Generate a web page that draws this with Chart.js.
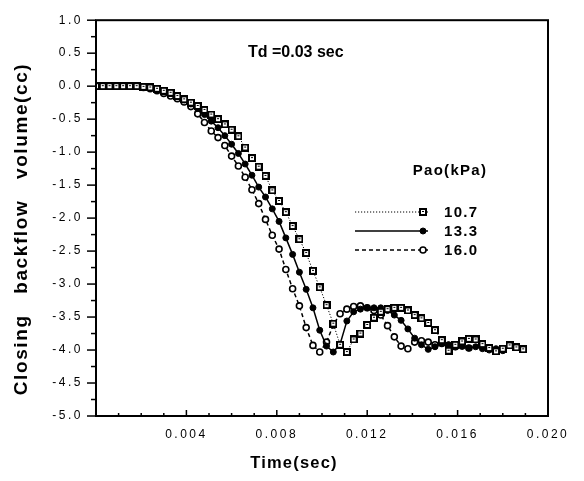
<!DOCTYPE html>
<html>
<head>
<meta charset="utf-8">
<script src="https://cdn.jsdelivr.net/npm/chart.js@4/dist/chart.umd.min.js"></script>
<style>
  html, body { margin: 0; padding: 0; background: #fff; }
  #wrap { width: 584px; height: 481px; }
</style>
</head>
<body>
<div id="wrap"><canvas id="c" width="584" height="481"></canvas></div>
<script>
// ---- data ----
const timeMs = [0,0.3,0.6,0.9,1.2,1.5,1.8,2.1,2.4,2.7,3.0,3.3,3.6,3.9,4.2,4.5,4.8,5.1,5.4,5.7,
  6.0,6.3,6.6,6.9,7.2,7.5,7.8,8.1,8.4,8.7,9.0,9.3,9.6,9.9,10.2,10.5,10.8,11.1,11.4,11.7,
  12.0,12.3,12.6,12.9,13.2,13.5,13.8,14.1,14.4,14.7,15.0,15.3,15.6,15.9,16.2,16.5,16.8,17.1,17.4,17.7,
  18.0,18.3,18.6,18.9];

const seriesLabels = ['10.7', '13.3', '16.0'];

const vol107 = [0,0,0,0,0,0,0,-0.01,-0.02,-0.04,-0.07,-0.10,-0.15,-0.20,-0.25,-0.30,-0.36,
  -0.43,-0.50,-0.58,-0.66,-0.76,-0.93,-1.09,-1.22,-1.36,-1.58,
  -1.74,-1.91,-2.12,-2.32,-2.53,-2.80,-3.05,-3.32,-3.60,-3.92,
  -4.03,-3.84,-3.75,-3.62,-3.51,-3.42,-3.38,-3.36,-3.36,-3.40,
  -3.47,-3.52,-3.59,-3.70,-3.85,-4.01,-3.92,-3.87,-3.83,-3.84,
  -3.91,-3.97,-4.02,-3.98,-3.93,-3.96,-3.99];

const vol133 = [0,0,0,0,0,0,0,-0.01,-0.02,-0.04,-0.07,-0.11,-0.16,-0.21,-0.27,-0.34,-0.43,
  -0.53,-0.63,-0.75,-0.88,-1.02,-1.18,-1.35,-1.53,-1.68,-1.86,
  -2.05,-2.30,-2.55,-2.82,-3.08,-3.36,-3.70,-3.94,-4.03,-3.91,
  -3.56,-3.42,-3.38,-3.36,-3.36,-3.36,-3.40,-3.47,-3.55,-3.68,
  -3.82,-3.92,-3.99,-3.95,-3.90,-3.92,-3.95,-3.93,-3.97,-3.95,
  -3.98,-4.00,-3.98,-4.01];

const vol160 = [0,0,0,0,0,0,0,-0.02,-0.04,-0.07,-0.11,-0.15,-0.19,-0.24,-0.31,-0.42,-0.55,
  -0.68,-0.78,-0.90,-1.06,-1.21,-1.38,-1.57,-1.78,-2.02,-2.26,
  -2.47,-2.78,-3.07,-3.33,-3.66,-3.93,-4.03,-3.88,-3.62,-3.45,
  -3.38,-3.34,-3.33,-3.36,-3.40,-3.47,-3.63,-3.80,-3.94,-3.98,
  -3.88,-3.86,-3.88,-3.92,-3.90,-3.93,-3.95,-3.94,-3.97];

const xTickStep = 0.004;
const yTickStep = 0.5;
const annotationText = 'Td =0.03 sec';
const legendTitle = 'Pao(kPa)';
const xTitle = 'Time(sec)';
const yTitle = 'Closing   backflow   volume(cc)';

// ---- helpers ----
function points(vals) {
  return vals.map((v, i) => ({ x: timeMs[i] / 1000, y: v }));
}
function makeSquare() {
  const c = document.createElement('canvas');
  c.width = 8; c.height = 8;
  const g = c.getContext('2d');
  g.fillStyle = '#000'; g.fillRect(0, 0, 8, 8);
  g.fillStyle = '#fff'; g.fillRect(2, 2, 4, 4);
  g.fillStyle = '#000'; g.fillRect(3, 3, 2, 2);
  g.fillStyle = '#fff'; g.fillRect(3, 4, 2, 1);
  return c;
}
const squareImg = makeSquare();
const FONT = "'Liberation Sans', Arial, Helvetica, sans-serif";

const decor = {
  id: 'decor',
  beforeDraw(chart) { chart.ctx.letterSpacing = '2.5px'; },
  beforeDatasetsDraw(chart) { chart.ctx.letterSpacing = '0px'; },
  afterDraw(chart) {
    const ctx = chart.ctx;
    const a = chart.chartArea;
    const xs = chart.scales.x, ys = chart.scales.y;
    ctx.save();
    ctx.letterSpacing = '0px';
    ctx.strokeStyle = '#000';
    ctx.lineWidth = 2;
    ctx.setLineDash([]);
    ctx.strokeRect(a.left, a.top, a.right - a.left, a.bottom - a.top);
    // y ticks (outward)
    ctx.lineWidth = 1.5;
    for (let k = 0; k <= 24; k++) {
      const v = ys.min + k * 0.25;
      const py = ys.getPixelForValue(v);
      const len = (k % 2 === 0) ? 9 : 5;
      ctx.beginPath(); ctx.moveTo(a.left - len, py); ctx.lineTo(a.left, py); ctx.stroke();
    }
    // x ticks (inward)
    for (let k = 1; k < 20; k++) {
      const px = xs.getPixelForValue(k * 0.001);
      const len = (k % 4 === 0) ? 6 : 3;
      ctx.beginPath(); ctx.moveTo(px, a.bottom); ctx.lineTo(px, a.bottom - len); ctx.stroke();
    }
    ctx.fillStyle = '#000';
    // annotation
    ctx.font = 'bold 16px ' + FONT;
    ctx.textAlign = 'left'; ctx.textBaseline = 'middle';
    ctx.fillText(annotationText, 248, 53);
    // x title
    ctx.letterSpacing = '1.2px';
    ctx.font = 'bold 16.5px ' + FONT;
    ctx.textAlign = 'center';
    ctx.fillText(xTitle, 294, 463);
    // y title
    ctx.save();
    ctx.translate(22, 229);
    ctx.rotate(-Math.PI / 2);
    ctx.letterSpacing = '1.6px';
    ctx.font = 'bold 19px ' + FONT;
    ctx.fillText(yTitle, 0, 0);
    ctx.restore();
    // legend
    ctx.letterSpacing = '1.3px';
    ctx.font = 'bold 15px ' + FONT;
    ctx.textAlign = 'center';
    ctx.fillText(legendTitle, 450, 171);
    const rows = [212, 231, 250];
    chart.data.datasets.forEach((ds, i) => {
      const y = rows[i];
      ctx.save();
      ctx.strokeStyle = '#000';
      ctx.lineWidth = ds.borderWidth;
      ctx.setLineDash(ds.borderDash || []);
      ctx.beginPath(); ctx.moveTo(355, y); ctx.lineTo(428, y); ctx.stroke();
      ctx.setLineDash([]);
      ctx.fillStyle = ds.pointBackgroundColor;
      ctx.strokeStyle = '#000';
      ctx.lineWidth = ds.pointBorderWidth;
      Chart.helpers.drawPoint(ctx, { pointStyle: ds.pointStyle, radius: ds.pointRadius, rotation: 0, borderWidth: ds.pointBorderWidth }, 423, y);
      ctx.restore();
      ctx.fillStyle = '#000';
      ctx.textAlign = 'left';
      ctx.fillText(ds.label, 444, y + 1);
    });
    ctx.restore();
  }
};

new Chart(document.getElementById('c'), {
  type: 'line',
  data: {
    datasets: [
      { label: seriesLabels[0], data: points(vol107), borderColor: '#000', borderWidth: 1,
        borderDash: [1.2, 1.8], pointStyle: squareImg, pointRadius: 4,
        pointBackgroundColor: '#fff', pointBorderColor: '#000', pointBorderWidth: 1, tension: 0 },
      { label: seriesLabels[1], data: points(vol133), borderColor: '#000', borderWidth: 1.5,
        borderDash: [], pointStyle: 'circle', pointRadius: 3,
        pointBackgroundColor: '#000', pointBorderColor: '#000', pointBorderWidth: 1, tension: 0 },
      { label: seriesLabels[2], data: points(vol160), borderColor: '#000', borderWidth: 1.5,
        borderDash: [4, 3], pointStyle: 'circle', pointRadius: 3,
        pointBackgroundColor: '#fff', pointBorderColor: '#000', pointBorderWidth: 1.6, tension: 0 }
    ]
  },
  options: {
    responsive: false,
    animation: false,
    events: [],
    layout: { padding: { left: 0, right: 36, top: 13, bottom: 0 } },
    plugins: { legend: { display: false }, tooltip: { enabled: false } },
    scales: {
      x: {
        type: 'linear', min: 0, max: 0.02,
        afterFit(s) { s.height = 65; },
        grid: { display: false, drawTicks: false },
        border: { display: false },
        ticks: {
          stepSize: xTickStep, autoSkip: false, maxRotation: 0, padding: 11,
          color: '#000', font: { family: FONT, size: 12 },
          callback(v) { return v === 0 ? '' : v.toFixed(3); }
        }
      },
      y: {
        min: -5, max: 1, z: 1,
        afterFit(s) { s.width = 96; },
        grid: { display: false, drawTicks: false },
        border: { display: false },
        ticks: {
          stepSize: yTickStep, autoSkip: false, padding: 13,
          color: '#000', font: { family: FONT, size: 12 },
          callback(v) { return v.toFixed(1); }
        }
      }
    }
  },
  plugins: [decor]
});
</script>
</body>
</html>
